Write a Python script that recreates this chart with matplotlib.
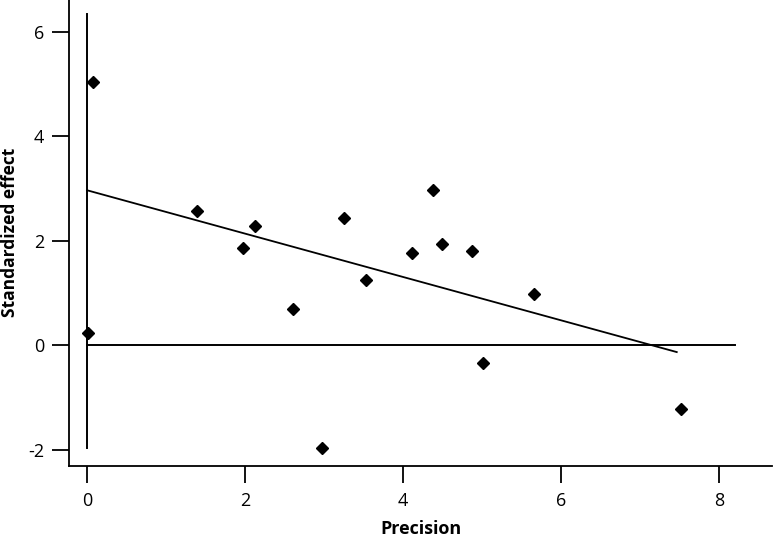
"""Galbraith-style plot: standardized effect vs precision."""

import matplotlib
matplotlib.use("Agg")
import matplotlib.pyplot as plt
import numpy as np

plt.rcParams["font.family"] = ["Open Sans", "DejaVu Sans"]
plt.rcParams["axes.unicode_minus"] = False  # 原图用的是普通连字符

# data
precision = [0.07, 0.01, 1.39, 1.97, 2.13, 2.60, 2.97, 3.25, 3.53,
             4.11, 4.38, 4.49, 4.87, 5.01, 5.65, 7.52]
std_effect = [5.05, 0.24, 2.58, 1.87, 2.28, 0.69, -1.97, 2.44, 1.25,
              1.77, 2.98, 1.95, 1.80, -0.34, 0.98, -1.22]

# fitted line (intercept, slope) and its x range
fit_intercept = 2.97
fit_slope = -0.415
fit_x = [0.0, 7.46]

# reference lines
vline_y = [-1.97, 6.35]
hline_x = [0.0, 8.2]

x_ticks = [0, 2, 4, 6, 8]
y_ticks = [-2, 0, 2, 4, 6]

W, H = 774, 541
fig = plt.figure(figsize=(W / 100, H / 100), dpi=100)
ax = fig.add_axes([69.3 / W, (H - 465.7) / H, (772 - 69.3) / W, 465.7 / H])

ax.plot([0, 0], vline_y, color="black", lw=1.4)
ax.plot(hline_x, [0, 0], color="black", lw=1.4)

fx = np.array(fit_x)
ax.plot(fx, fit_intercept + fit_slope * fx, color="black", lw=1.3)

ax.plot(precision, std_effect, "D", color="black", ms=6.2, zorder=5)

ax.set_xlim(-0.224, 8.665)
ax.set_ylim(-2.30, 6.61)
ax.set_xticks(x_ticks)
ax.set_yticks(y_ticks)

for s in ("top", "right"):
    ax.spines[s].set_visible(False)
for s in ("left", "bottom"):
    ax.spines[s].set_linewidth(1.3)

ax.tick_params(axis="both", length=12, width=1.3, labelsize=13, color="black")
ax.tick_params(axis="x", pad=7)
ax.tick_params(axis="y", pad=6)

ax.set_xlabel("Precision", fontsize=13, fontweight="bold", labelpad=7)
ax.set_ylabel("Standardized effect", fontsize=12.5, fontweight="bold")
ax.yaxis.set_label_coords(-0.072, 0.5)

fig.savefig("out.png", dpi=100)
